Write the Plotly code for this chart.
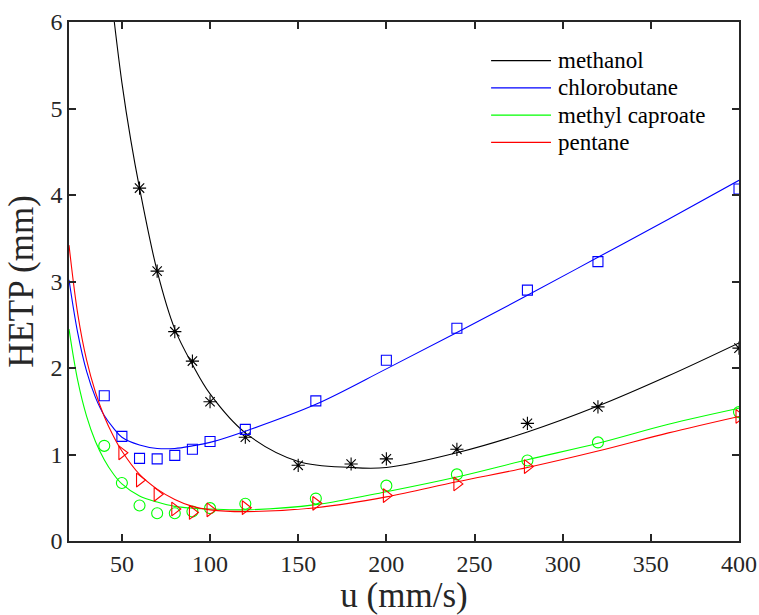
import plotly.graph_objects as go

# ---- measured plate heights (HETP, mm) vs. linear velocity u (mm/s) ----
u_methanol = [60, 70, 80, 90, 100, 120, 150, 180, 200, 240, 280, 320, 400]
h_methanol = [4.08, 3.12, 2.42, 2.08, 1.61, 1.20, 0.875, 0.89, 0.95, 1.06, 1.36, 1.55, 2.23]

u_chlorobutane = [40, 50, 60, 70, 80, 90, 100, 120, 160, 200, 240, 280, 320, 400]
h_chlorobutane = [1.68, 1.21, 0.955, 0.95, 0.99, 1.06, 1.15, 1.29, 1.62, 2.09, 2.46, 2.90, 3.23, 4.07]

u_caproate = [40, 50, 60, 70, 80, 90, 100, 120, 160, 200, 240, 280, 320, 400]
h_caproate = [1.10, 0.67, 0.41, 0.32, 0.32, 0.34, 0.38, 0.43, 0.49, 0.64, 0.77, 0.93, 1.14, 1.49]

u_pentane = [50, 60, 70, 80, 90, 100, 120, 160, 200, 240, 280, 400]
h_pentane = [1.02, 0.705, 0.54, 0.37, 0.33, 0.36, 0.385, 0.435, 0.525, 0.66, 0.86, 1.44]

# ---- fitted curves, sampled along u ----
u_fit_methanol = [45.7, 50, 55, 60, 70, 80, 90, 100, 120, 150, 180, 200, 240, 280, 320, 360, 400]
h_fit_methanol = [6.0, 5.3, 4.64, 4.08, 3.12, 2.45, 2.04, 1.70, 1.25, 0.92, 0.85, 0.85, 1.02, 1.26, 1.56, 1.91, 2.29]

u_fit = [20, 25, 30, 35, 40, 45, 50, 60, 70, 80, 90, 100, 120, 160, 200, 240, 280, 320, 360, 400]
h_fit_chlorobutane = [3.02, 2.40, 1.96, 1.66, 1.45, 1.31, 1.20, 1.11, 1.07, 1.07, 1.10, 1.14, 1.27, 1.58, 1.99, 2.41, 2.84, 3.28, 3.72, 4.17]
h_fit_caproate = [2.45, 1.85, 1.44, 1.15, 0.94, 0.78, 0.66, 0.52, 0.45, 0.40, 0.38, 0.37, 0.36, 0.42, 0.57, 0.74, 0.94, 1.13, 1.35, 1.535]
h_fit_pentane = [3.42, 2.62, 2.09, 1.72, 1.44, 1.22, 1.04, 0.77, 0.60, 0.48, 0.40, 0.36, 0.34, 0.385, 0.51, 0.685, 0.85, 1.04, 1.25, 1.44]

x_ticks = [50, 100, 150, 200, 250, 300, 350, 400]
y_ticks = [0, 1, 2, 3, 4, 5, 6]

BLACK, BLUE, GREEN, RED = "#000000", "#0000FF", "#00FF00", "#FF0000"
FONT = "Liberation Serif"
AXIS = "#262626"

series = [
    ("methanol", u_fit_methanol, h_fit_methanol, u_methanol, h_methanol, BLACK, "asterisk-open", 11),
    ("chlorobutane", u_fit, h_fit_chlorobutane, u_chlorobutane, h_chlorobutane, BLUE, "square-open", 10),
    ("methyl caproate", u_fit, h_fit_caproate, u_caproate, h_caproate, GREEN, "circle-open", 11),
    ("pentane", u_fit, h_fit_pentane, u_pentane, h_pentane, RED, "triangle-right-open", 12),
]

fig = go.Figure()
for name, uf, hf, um, hm, color, symbol, size in series:
    fig.add_trace(go.Scatter(
        x=uf, y=hf, mode="lines", name=name, showlegend=False,
        line=dict(color=color, width=1.1, shape="spline", smoothing=1.0),
    ))
    fig.add_trace(go.Scatter(
        x=um, y=hm, mode="markers", name=name, showlegend=False,
        marker=dict(symbol=symbol, size=size, color=color,
                    line=dict(color=color, width=1.1)),
    ))

# legend in the upper right: short coloured line + series name per row
leg_x0, leg_x1, leg_tx = 0.630, 0.7194, 0.7264
leg_y0, leg_dy = 0.9254, 0.0524
for i, (name, uf, hf, um, hm, color, symbol, size) in enumerate(series):
    yy = leg_y0 - i * leg_dy
    fig.add_shape(type="line", xref="paper", yref="paper",
                  x0=leg_x0, x1=leg_x1, y0=yy, y1=yy,
                  line=dict(color=color, width=1.3))
    fig.add_annotation(xref="paper", yref="paper", x=leg_tx, y=yy,
                       xanchor="left", yanchor="middle", showarrow=False,
                       text=name, font=dict(family=FONT, size=23, color="#000000"))

axis_common = dict(
    showline=True, linecolor=AXIS, linewidth=1.5, mirror="ticks",
    ticks="inside", ticklen=7, tickwidth=1.5, tickcolor=AXIS,
    showgrid=False, zeroline=False, automargin=False,
)

fig.update_layout(
    width=759, height=615,
    margin=dict(l=69, r=20, t=22, b=74),
    paper_bgcolor="white", plot_bgcolor="white",
    font=dict(family=FONT, size=24, color=AXIS),
    showlegend=False,
)
fig.update_xaxes(range=[20, 400], tickvals=x_ticks, **axis_common,
                 tickfont=dict(family=FONT, size=24, color=AXIS),
                 title=dict(text="u (mm/s)", font=dict(family=FONT, size=35, color=AXIS), standoff=11))
fig.update_yaxes(range=[0, 6], tickvals=y_ticks, **axis_common,
                 tickfont=dict(family=FONT, size=24, color=AXIS),
                 title=dict(text="HETP (mm)", font=dict(family=FONT, size=35, color=AXIS), standoff=6))

fig.write_html("out.html")
